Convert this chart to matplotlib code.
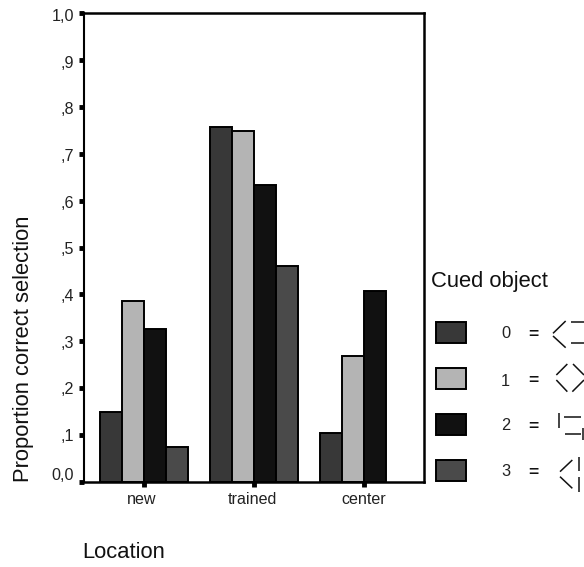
import matplotlib
matplotlib.use('Agg')
import matplotlib.pyplot as plt
from matplotlib.patches import Rectangle
from matplotlib.transforms import ScaledTranslation
import numpy as np

plt.rcParams['font.family'] = ['Liberation Sans', 'DejaVu Sans']

W, H = 584, 567
categories = ['new', 'trained', 'center']
cued_labels = ['0', '1', '2', '3']
cue0 = [0.15, 0.757, 0.105]
cue1 = [0.385, 0.748, 0.268]
cue2 = [0.327, 0.633, 0.407]
cue3 = [0.075, 0.46, None]
series = [cue0, cue1, cue2, cue3]
colors = ['#383838', '#b4b4b4', '#111111', '#4a4a4a']
y_ticks = [0, .1, .2, .3, .4, .5, .6, .7, .8, .9, 1.0]
y_labels = ['0,0', ',1', ',2', ',3', ',4', ',5', ',6', ',7', ',8', ',9', '1,0']

fig = plt.figure(figsize=(W / 100, H / 100), dpi=100)
L, R, T, B = 83.5, 424, 13, 482
ax = fig.add_axes([L / W, 1 - B / H, (R - L) / W, (B - T) / H])

bw = 0.2
for i, vals in enumerate(series):
    for j, v in enumerate(vals):
        if v is None:
            continue
        ax.bar(j + (i - 1.5) * bw, v, bw, color=colors[i], edgecolor='black', linewidth=1.4)

ax.set_xlim(-0.55, 2.55)
ax.set_ylim(0, 1)
ax.set_xticks(range(3))
ax.set_xticklabels(categories, fontsize=11.6, color='#222222')
ax.set_yticks(y_ticks)
ax.set_yticklabels(y_labels, fontsize=11.6, color='#222222')
ax.tick_params(axis='y', length=3.5, width=3.5, pad=3.5)
ax.tick_params(axis='x', length=3.5, width=3.5, pad=4)
# the lowest label sits above its tick, the others just below it
for label, dy_px in zip(ax.get_yticklabels(), [8.5, 0, 0, -1, -1, -1, -1, -1, -1, -2, -2]):
    label.set_transform(label.get_transform() + ScaledTranslation(0, dy_px / 100, fig.dpi_scale_trans))
for label, dx_px in zip(ax.get_xticklabels(), [-2, -1, 0]):
    label.set_transform(label.get_transform() + ScaledTranslation(dx_px / 100, 0, fig.dpi_scale_trans))
ax.spines['left'].set_linewidth(1.5)
for s in ['top', 'right', 'bottom']:
    ax.spines[s].set_linewidth(1.8)

# overlay in pixel coordinates for titles and the hand-drawn legend
ov = fig.add_axes([0, 0, 1, 1], facecolor='none')
ov.set_xlim(0, W)
ov.set_ylim(H, 0)
ov.axis('off')
ov.text(24, 348.5, 'Proportion correct selection', fontsize=15.8, rotation=90,
        va='center', ha='center', color='#111111')
ov.text(82, 553, 'Location', fontsize=15.8, va='center', ha='left', color='#111111')
ov.text(431, 281, 'Cued object', fontsize=15.8, va='center', ha='left', color='#111111')

swatch_y = [322, 368, 414, 460]
label_y = [334, 381, 426, 472]
for c, sy, ly, lab in zip(colors, swatch_y, label_y, cued_labels):
    ov.add_patch(Rectangle((435.5, sy), 30, 20.5, facecolor=c, edgecolor='black', linewidth=1.4))
    ov.text(505.5, ly, lab, fontsize=11.8, ha='center', va='center', color='#222222')
    ov.text(533, ly, '=', fontsize=12.5, fontweight='bold', ha='center', va='center', color='#111111')


def z(pts):
    return [424 + pts[0] / 3, 424 + pts[2] / 3], [260 + pts[1] / 3, 260 + pts[3] / 3]


glyphs = [
    (425, 183, 387, 220), (387, 228, 425, 263), (440, 187, 480, 187), (440, 250, 480, 250),
    (430, 312, 397, 345), (447, 312, 480, 345), (397, 360, 430, 395), (480, 360, 445, 395),
    (405, 460, 405, 505), (420, 470, 470, 470), (423, 522, 470, 522), (478, 505, 478, 540),
    (445, 600, 408, 635), (408, 650, 445, 685), (465, 590, 465, 632), (465, 650, 465, 695),
]
for g in glyphs:
    xs, ys = z(g)
    ov.plot(xs, ys, color='#111111', lw=1.1, solid_capstyle='butt')

fig.savefig('out.png', dpi=100, facecolor='white')
